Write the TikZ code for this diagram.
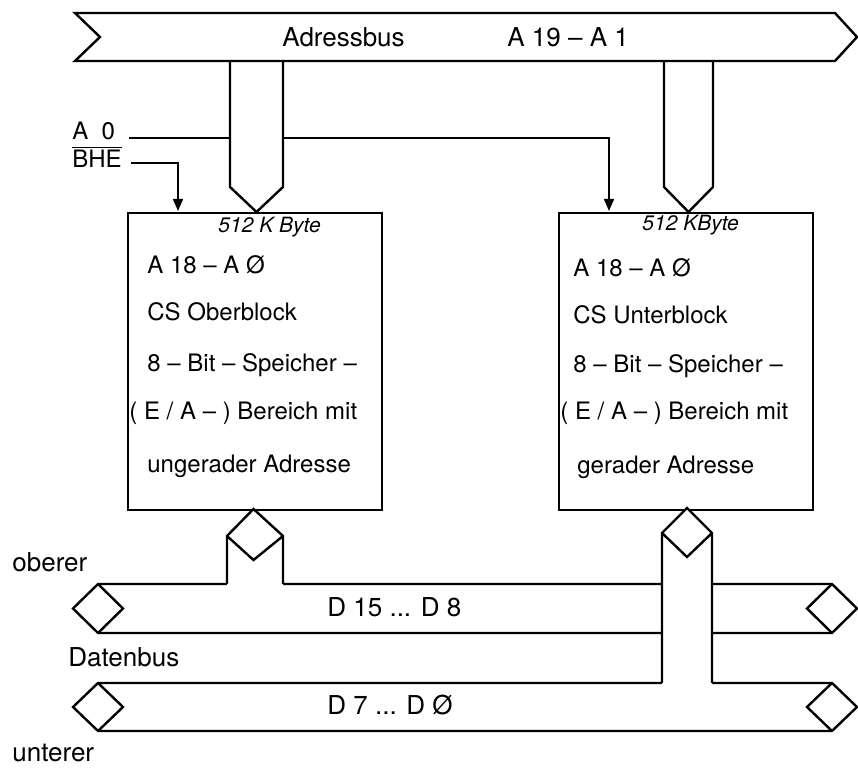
\documentclass[tikz,border=0pt]{standalone}
\usepackage{fontspec}
\setmainfont{TeX Gyre Heros}
\usepackage{tikz}
\usetikzlibrary{positioning, arrows.meta}

\begin{document}
\begin{tikzpicture}[
  x=0.5pt, y=-0.5pt,
  bus/.style={draw, fill=white, line width=1.2pt},
  cut/.style={fill=white},
  wire/.style={line width=1.2pt},
  sig/.style={line width=0.75pt},
  blk/.style={draw, line width=1.2pt, anchor=north west, minimum width=127pt, minimum height=148.5pt, inner sep=0pt},
  txt/.style={anchor=base west, inner sep=0pt, font=\fontsize{12}{14}\selectfont},
  kb/.style={anchor=base west, inner sep=0pt, font=\fontsize{10.5}{12}\selectfont\itshape},
  lbl/.style={anchor=base west, inner sep=0pt, font=\fontsize{13}{15}\selectfont},
  >={Triangle[length=6pt,width=5pt]},
]
\useasboundingbox (0,0) rectangle (858,769);

\node[blk] (ob) at (127,212) {};
\node[blk] (ub) at (558,212) {};
\node[txt] (a0) at (72,140) {A~~0};
\node[txt] (bhe) at (72,168) {$\overline{\mbox{BHE}}$};
\coordinate (obin) at (178,211);
\coordinate (ubin) at (609,211);
\draw[sig,->] ([xshift=7pt,yshift=1pt]a0.base east) -| (ubin);
\draw[sig,->] ([xshift=4.5pt,yshift=2.5pt]bhe.base east) -| (obin);

\path[bus] (230,61) -- (230,187) -- (256.5,212) -- (283,187) -- (283,61);
\path[bus] (664,61) -- (664,187) -- (688.5,212) -- (713,187) -- (713,61);
\path[bus] (75,13) -- (835,13) -- (857,37) -- (835,61) -- (75,61) -- (100,37) -- cycle;
\node[lbl] (adr) at (282,47) {Adressbus};
\node[lbl] (adrw) at (507,47) {A 19 -- A 1};

\path[bus] (98,683) -- (832,683) -- (857,707) -- (832,731) -- (98,731) -- (73,707) -- cycle;
\draw[wire] (98,683) -- (123,707) -- (98,731) (832,683) -- (807,707) -- (832,731);
\path[bus] (98,584) -- (832,584) -- (857,608.5) -- (832,633) -- (98,633) -- (73,608.5) -- cycle;
\draw[wire] (98,584) -- (123,608.5) -- (98,633) (832,584) -- (807,608.5) -- (832,633);

\path[cut] (227,536) -- (253.5,509) -- (283,536) -- (283,586) -- (227,586) -- cycle;
\draw[wire] (227,584) -- (227,536) -- (253.5,509) -- (283,536) -- (283,584) (227,536) -- (253.5,560) -- (283,536);
\path[cut] (662,533) -- (687,508) -- (712,533) -- (712,685) -- (662,685) -- cycle;
\draw[wire] (662,683) -- (662,533) -- (687,508) -- (712,533) -- (712,683) (662,533) -- (687,557) -- (712,533);

\node[kb] (obk) at (218,233) {512 K Byte};
\node[txt] (ob1) at (147,274) {A 18 -- A Ø};
\node[txt] (ob2) at (147,321) {CS Oberblock};
\node[txt] (ob3) at (147,372) {8 -- Bit -- Speicher --};
\node[txt] (ob4) at (129,420) {( E / A -- ) Bereich mit};
\node[txt] (ob5) at (147,473) {ungerader Adresse};

\node[kb] (ubk) at (642,231) {512 KByte};
\node[txt] (ub1) at (573,277) {A 18 -- A Ø};
\node[txt] (ub2) at (573,324) {CS Unterblock};
\node[txt] (ub3) at (573,373) {8 -- Bit -- Speicher --};
\node[txt] (ub4) at (560,420) {( E / A -- ) Bereich mit};
\node[txt] (ub5) at (577,474) {gerader Adresse};

\node[lbl] (dhi) at (327,617) {D 15 ... D 8};
\node[lbl] (dlo) at (327,715) {D 7 ... D Ø};
\node[lbl] (ober) at (12,572) {oberer};
\node[lbl] (dbus) at (68,667) {Datenbus};
\node[lbl] (unter) at (12,762) {unterer};
\end{tikzpicture}
\end{document}
